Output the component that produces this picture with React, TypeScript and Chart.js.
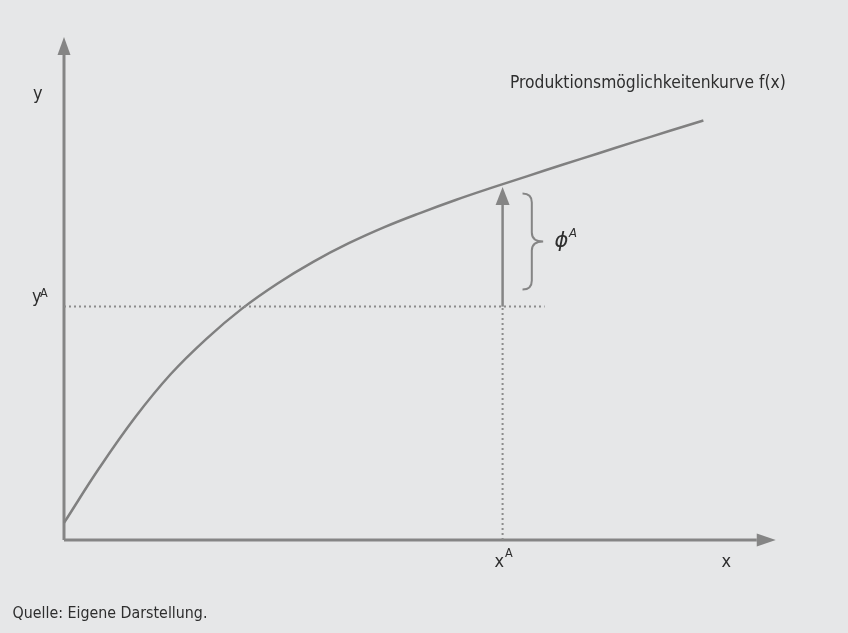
import React, { useEffect, useRef } from 'react';
import { Chart, registerables } from 'chart.js';

Chart.register(...registerables);

// ---- data (abstract units, 0..10 on both axes) ----
const curveX = [0, 0.5, 1.0, 1.5, 2.0, 2.5, 3.0, 3.5, 4.0, 4.5, 5.0, 5.5, 6.0, 6.5, 7.0, 7.5, 8.0, 8.5, 8.98];
const curveY = [0.34, 1.44, 2.44, 3.30, 4.00, 4.60, 5.10, 5.53, 5.90, 6.22, 6.50, 6.76, 7.00, 7.23, 7.46, 7.685, 7.91, 8.13, 8.34];
const xA = 6.16;            // x^A
const yA = 4.64;            // y^A
const phiTop = 6.66;        // base of the phi arrow head (just below f(x^A))
const xAxisEnd = 9.73;      // base of x-axis arrow head
const yAxisEnd = 9.64;      // base of y-axis arrow head
const hDottedEnd = 6.75;    // right end of horizontal dotted line
const braceRange = [4.98, 6.89]; // y-range of the brace
const braceX = [6.44, 6.73];     // brace left end / tip
const textCurve = 'Produktionsmöglichkeitenkurve f(x)';
const textX = 'x';
const textY = 'y';
const textSup = 'A';
const textPhi = 'ϕ';
const textSource = 'Quelle: Eigene Darstellung.';

const BG = '#e6e7e8';
const LINE = '#858585';
const TEXT = '#2e2e2e';
const NARROW = '"Liberation Sans Narrow", "DejaVu Sans Condensed", "Liberation Sans", sans-serif';

function fitSize(ctx: CanvasRenderingContext2D, text: string, family: string, target: number) {
  ctx.font = `100px ${family}`;
  const w = ctx.measureText(text).width;
  return (100 * target) / w;
}

const bgPlugin = {
  id: 'bg',
  beforeDraw(chart: any) {
    const ctx = chart.ctx;
    ctx.save();
    ctx.fillStyle = BG;
    ctx.fillRect(0, 0, chart.width, chart.height);
    ctx.restore();
  },
};

const decoPlugin = {
  id: 'deco',
  afterDatasetsDraw(chart: any) {
    const ctx: CanvasRenderingContext2D = chart.ctx;
    const xs = chart.scales.x;
    const ys = chart.scales.y;
    ctx.save();
    // arrow heads
    chart.data.datasets.forEach((ds: any, i: number) => {
      if (!ds.arrow) return;
      const meta = chart.getDatasetMeta(i);
      const pts = meta.data;
      const a = pts[pts.length - 2];
      const b = pts[pts.length - 1];
      const dx = b.x - a.x;
      const dy = b.y - a.y;
      const len = Math.hypot(dx, dy);
      const ux = dx / len;
      const uy = dy / len;
      const L = ds.arrow.len;
      const H = ds.arrow.half;
      ctx.beginPath();
      ctx.moveTo(b.x + ux * L, b.y + uy * L);
      ctx.lineTo(b.x - uy * H, b.y + ux * H);
      ctx.lineTo(b.x + uy * H, b.y - ux * H);
      ctx.closePath();
      ctx.fillStyle = ds.borderColor;
      ctx.fill();
    });

    // brace
    const x0 = xs.getPixelForValue(braceX[0]);
    const x2 = xs.getPixelForValue(braceX[1]);
    const x1 = x0 + (x2 - x0) * 0.45;
    const yt = ys.getPixelForValue(braceRange[1]);
    const yb = ys.getPixelForValue(braceRange[0]);
    const ym = (yt + yb) / 2;
    const r = 9;
    ctx.beginPath();
    ctx.moveTo(x0, yt);
    ctx.quadraticCurveTo(x1, yt, x1, yt + r);
    ctx.lineTo(x1, ym - r);
    ctx.quadraticCurveTo(x1, ym, x2, ym);
    ctx.quadraticCurveTo(x1, ym, x1, ym + r);
    ctx.lineTo(x1, yb - r);
    ctx.quadraticCurveTo(x1, yb, x0, yb);
    ctx.strokeStyle = LINE;
    ctx.lineWidth = 2;
    ctx.stroke();

    // texts
    ctx.fillStyle = TEXT;
    ctx.textBaseline = 'alphabetic';
    ctx.textAlign = 'left';
    const titleSize = fitSize(ctx, textCurve, NARROW, 276);
    ctx.font = `${titleSize}px ${NARROW}`;
    ctx.fillText(textCurve, 510, 88);

    const letter = `18px ${NARROW}`;
    const sup = `12.5px ${NARROW}`;
    const x0px = xs.getPixelForValue(0);
    const yApx = ys.getPixelForValue(yA);
    const xApx = xs.getPixelForValue(xA);
    const axisY = ys.getPixelForValue(0);

    // y axis label
    ctx.font = letter;
    ctx.fillText(textY, x0px - 31, 99);
    // y^A
    ctx.fillText(textY, x0px - 32, yApx - 5);
    ctx.font = sup;
    ctx.fillText(textSup, x0px - 24, yApx - 9.5);
    // x^A
    ctx.font = letter;
    ctx.fillText(textX, xApx - 8, axisY + 26.5);
    ctx.font = sup;
    ctx.fillText(textSup, xApx + 2.5, axisY + 16.5);
    // x axis label
    ctx.font = letter;
    ctx.fillText(textX, 721.5, axisY + 26.5);
    // phi^A
    ctx.font = `italic 21px "DejaVu Sans", sans-serif`;
    ctx.fillText(textPhi, 554.5, 247);
    ctx.font = `italic 13px ${NARROW}`;
    ctx.fillText(textSup, 569, 237);

    // source
    const srcSize = fitSize(ctx, textSource, NARROW, 195);
    ctx.font = `${srcSize}px ${NARROW}`;
    ctx.fillText(textSource, 12.5, 618);
    ctx.restore();
  },
};

export default function App() {
  const ref = useRef<HTMLCanvasElement | null>(null);
  useEffect(() => {
    if (!ref.current) return;
    const curve = curveX.map((x, i) => ({ x, y: curveY[i] }));
    const common = { pointRadius: 0, fill: false, clip: false as any, showLine: true };
    const chart = new Chart(ref.current, {
      type: 'line',
      data: {
        datasets: [
          {
            ...common,
            data: [{ x: 0, y: yA }, { x: hDottedEnd, y: yA }],
            borderColor: '#8c8c8c',
            borderWidth: 2,
            borderDash: [2, 3],
          },
          {
            ...common,
            data: [{ x: xA, y: 0 }, { x: xA, y: yA }],
            borderColor: '#8c8c8c',
            borderWidth: 2,
            borderDash: [2, 3],
          },
          {
            ...common,
            data: curve,
            borderColor: '#808080',
            borderWidth: 2.5,
            tension: 0.4,
          },
          {
            ...common,
            data: [{ x: 0, y: 0 }, { x: xAxisEnd, y: 0 }],
            borderColor: LINE,
            borderWidth: 3,
            arrow: { len: 19, half: 6.5 },
          } as any,
          {
            ...common,
            data: [{ x: 0, y: 0 }, { x: 0, y: yAxisEnd }],
            borderColor: LINE,
            borderWidth: 3,
            arrow: { len: 18, half: 6.5 },
          } as any,
          {
            ...common,
            data: [{ x: xA, y: yA }, { x: xA, y: phiTop }],
            borderColor: LINE,
            borderWidth: 2.5,
            arrow: { len: 18, half: 7 },
          } as any,
        ],
      },
      options: {
        animation: false,
        responsive: false,
        maintainAspectRatio: false,
        layout: { padding: { left: 64, right: 72, top: 37, bottom: 93 } },
        scales: {
          x: { type: 'linear', min: 0, max: 10, display: false },
          y: { type: 'linear', min: 0, max: 10, display: false },
        },
        plugins: { legend: { display: false }, tooltip: { enabled: false } },
      },
      plugins: [bgPlugin, decoPlugin],
    });
    return () => chart.destroy();
  }, []);
  return (
    <div style={{ position: 'fixed', left: 0, top: 0, width: 848, height: 633, background: BG }}>
      <canvas ref={ref} width={848} height={633} style={{ display: 'block', width: 848, height: 633 }} />
    </div>
  );
}
